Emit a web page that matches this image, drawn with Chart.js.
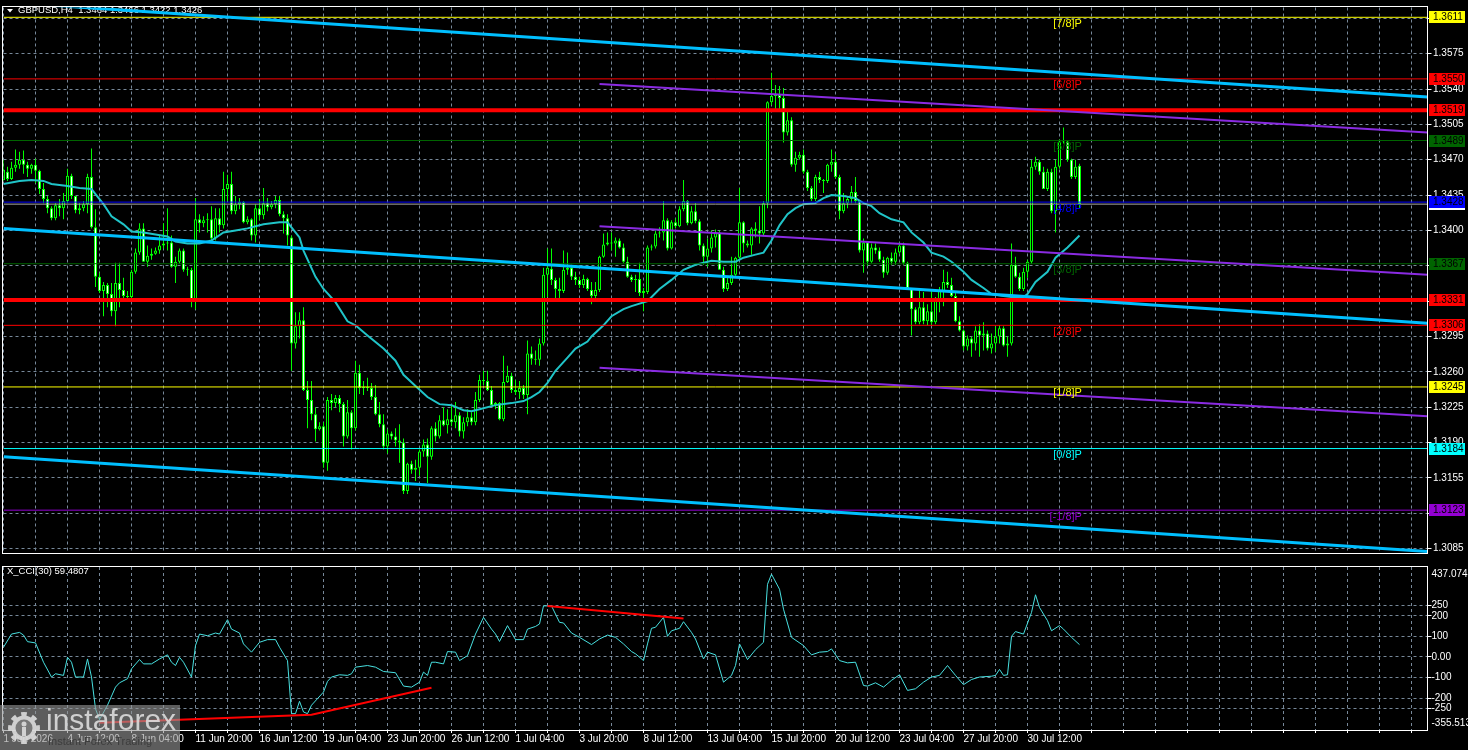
<!DOCTYPE html>
<html>
<head>
<meta charset="utf-8">
<title>GBPUSD H4</title>
<script src="https://cdn.jsdelivr.net/npm/chart.js@4.4.1/dist/chart.umd.min.js"></script>
<style>
  html, body { margin: 0; padding: 0; background: #000; }
  #wrap { position: relative; width: 1468px; height: 750px; overflow: hidden; background: #000; }
  #main { position: absolute; left: 0; top: 0; }
  #cci { position: absolute; left: 0; top: 561px; }
</style>
</head>
<body>
<div id="wrap">
  <canvas id="main" width="1468" height="561"></canvas>
  <canvas id="cci" width="1468" height="189"></canvas>
</div>
<script>
const symbol = 'GBPUSD';
const timeframe = 'H4';

// H4 candles, oldest first
const opens = [
  1.3450,1.3458,1.3451,1.3462,1.3465,1.3470,1.3465,1.3461,1.3465,1.3459,
  1.3441,1.3431,1.3422,1.3412,1.3425,1.3422,1.3429,1.3454,1.3434,1.3420,
  1.3422,1.3426,1.3453,1.3403,1.3354,1.3340,1.3346,1.3337,1.3320,1.3348,
  1.3341,1.3335,1.3334,1.3359,1.3378,1.3402,1.3369,1.3375,1.3377,1.3380,
  1.3385,1.3387,1.3388,1.3364,1.3369,1.3380,1.3361,1.3361,1.3332,1.3411,
  1.3407,1.3410,1.3411,1.3392,1.3412,1.3405,1.3441,1.3446,1.3419,1.3426,
  1.3428,1.3408,1.3411,1.3395,1.3422,1.3415,1.3427,1.3423,1.3426,1.3430,
  1.3416,1.3412,1.3393,1.3288,1.3305,1.3311,1.3242,1.3232,1.3218,1.3203,
  1.3206,1.3170,1.3232,1.3229,1.3234,1.3228,1.3196,1.3220,1.3204,1.3259,
  1.3244,1.3245,1.3244,1.3235,1.3218,1.3208,1.3186,1.3199,1.3196,1.3192,
  1.3190,1.3142,1.3169,1.3163,1.3165,1.3181,1.3188,1.3176,1.3204,1.3196,
  1.3212,1.3207,1.3213,1.3210,1.3217,1.3201,1.3210,1.3215,1.3210,1.3232,
  1.3252,1.3251,1.3242,1.3227,1.3229,1.3213,1.3250,1.3256,1.3242,1.3240,
  1.3244,1.3237,1.3278,1.3273,1.3272,1.3288,1.3356,1.3362,1.3351,1.3342,
  1.3340,1.3361,1.3363,1.3354,1.3351,1.3346,1.3352,1.3341,1.3335,1.3341,
  1.3374,1.3386,1.3388,1.3387,1.3390,1.3383,1.3369,1.3354,1.3351,1.3352,
  1.3338,1.3339,1.3383,1.3384,1.3397,1.3398,1.3410,1.3382,1.3408,1.3404,
  1.3421,1.3429,1.3407,1.3419,1.3409,1.3385,1.3374,1.3382,1.3393,1.3398,
  1.3361,1.3342,1.3348,1.3356,1.3373,1.3408,1.3387,1.3385,1.3402,1.3400,
  1.3397,1.3427,1.3527,1.3533,1.3534,1.3531,1.3497,1.3509,1.3465,1.3472,
  1.3475,1.3458,1.3442,1.3431,1.3453,1.3450,1.3449,1.3465,1.3468,1.3453,
  1.3419,1.3427,1.3431,1.3438,1.3429,1.3380,1.3388,1.3369,1.3383,1.3380,
  1.3371,1.3358,1.3373,1.3369,1.3378,1.3385,1.3368,1.3342,1.3322,1.3309,
  1.3324,1.3310,1.3320,1.3309,1.3330,1.3340,1.3349,1.3346,1.3335,1.3310,
  1.3301,1.3285,1.3293,1.3288,1.3301,1.3296,1.3298,1.3283,1.3288,1.3295,
  1.3303,1.3286,1.3288,1.3366,1.3354,1.3342,1.3359,1.3369,1.3463,1.3468,
  1.3458,1.3441,1.3458,1.3419,1.3463,1.3488,1.3488,1.3470,1.3453,1.3464
];
const highs = [
  1.3470,1.3463,1.3468,1.3480,1.3478,1.3479,1.3468,1.3466,1.3471,1.3460,
  1.3447,1.3434,1.3424,1.3427,1.3431,1.3437,1.3461,1.3456,1.3434,1.3427,
  1.3429,1.3456,1.3481,1.3421,1.3358,1.3349,1.3348,1.3348,1.3368,1.3368,
  1.3353,1.3340,1.3361,1.3382,1.3407,1.3407,1.3385,1.3382,1.3383,1.3395,
  1.3407,1.3422,1.3395,1.3374,1.3382,1.3382,1.3364,1.3363,1.3432,1.3416,
  1.3414,1.3417,1.3424,1.3422,1.3422,1.3458,1.3455,1.3458,1.3434,1.3432,
  1.3429,1.3414,1.3412,1.3426,1.3431,1.3442,1.3432,1.3429,1.3434,1.3434,
  1.3419,1.3416,1.3395,1.3319,1.3319,1.3324,1.3251,1.3251,1.3225,1.3210,
  1.3210,1.3235,1.3238,1.3237,1.3237,1.3230,1.3232,1.3222,1.3271,1.3267,
  1.3251,1.3254,1.3249,1.3247,1.3230,1.3218,1.3203,1.3201,1.3204,1.3208,
  1.3194,1.3170,1.3172,1.3173,1.3183,1.3193,1.3194,1.3206,1.3210,1.3217,
  1.3225,1.3223,1.3227,1.3230,1.3220,1.3215,1.3223,1.3220,1.3240,1.3257,
  1.3261,1.3261,1.3246,1.3230,1.3230,1.3276,1.3266,1.3259,1.3252,1.3251,
  1.3247,1.3291,1.3285,1.3281,1.3293,1.3363,1.3382,1.3382,1.3353,1.3353,
  1.3380,1.3378,1.3366,1.3359,1.3354,1.3356,1.3353,1.3349,1.3349,1.3375,
  1.3397,1.3398,1.3398,1.3393,1.3392,1.3387,1.3374,1.3356,1.3356,1.3368,
  1.3343,1.3385,1.3386,1.3400,1.3403,1.3429,1.3412,1.3410,1.3412,1.3424,
  1.3450,1.3430,1.3424,1.3427,1.3411,1.3387,1.3392,1.3400,1.3401,1.3400,
  1.3364,1.3354,1.3374,1.3374,1.3442,1.3409,1.3390,1.3403,1.3408,1.3424,
  1.3429,1.3528,1.3556,1.3544,1.3543,1.3541,1.3519,1.3512,1.3478,1.3478,
  1.3480,1.3460,1.3444,1.3455,1.3458,1.3451,1.3466,1.3480,1.3476,1.3455,
  1.3437,1.3433,1.3444,1.3453,1.3429,1.3392,1.3388,1.3387,1.3387,1.3383,
  1.3374,1.3374,1.3378,1.3382,1.3388,1.3388,1.3369,1.3342,1.3324,1.3340,
  1.3339,1.3327,1.3342,1.3334,1.3344,1.3361,1.3359,1.3353,1.3340,1.3315,
  1.3302,1.3296,1.3295,1.3305,1.3307,1.3309,1.3301,1.3298,1.3305,1.3306,
  1.3305,1.3295,1.3387,1.3374,1.3358,1.3363,1.3371,1.3470,1.3473,1.3470,
  1.3463,1.3461,1.3461,1.3470,1.3490,1.3502,1.3489,1.3471,1.3470,1.3466
];
const lows = [
  1.3449,1.3449,1.3450,1.3458,1.3461,1.3456,1.3453,1.3456,1.3447,1.3436,
  1.3427,1.3417,1.3410,1.3410,1.3414,1.3411,1.3427,1.3431,1.3417,1.3416,
  1.3419,1.3417,1.3402,1.3344,1.3338,1.3315,1.3324,1.3315,1.3305,1.3324,
  1.3333,1.3332,1.3332,1.3357,1.3376,1.3369,1.3364,1.3371,1.3376,1.3377,
  1.3382,1.3380,1.3363,1.3348,1.3367,1.3359,1.3355,1.3324,1.3322,1.3398,
  1.3403,1.3398,1.3390,1.3390,1.3398,1.3402,1.3429,1.3416,1.3416,1.3421,
  1.3407,1.3406,1.3390,1.3388,1.3410,1.3411,1.3419,1.3421,1.3422,1.3414,
  1.3397,1.3385,1.3261,1.3283,1.3293,1.3241,1.3204,1.3212,1.3191,1.3202,
  1.3165,1.3162,1.3222,1.3225,1.3220,1.3186,1.3194,1.3183,1.3202,1.3238,
  1.3237,1.3241,1.3232,1.3217,1.3205,1.3183,1.3179,1.3193,1.3186,1.3170,
  1.3139,1.3139,1.3159,1.3152,1.3157,1.3176,1.3150,1.3173,1.3191,1.3194,
  1.3206,1.3199,1.3206,1.3204,1.3196,1.3194,1.3206,1.3207,1.3207,1.3230,
  1.3247,1.3241,1.3227,1.3223,1.3212,1.3211,1.3249,1.3239,1.3237,1.3233,
  1.3233,1.3218,1.3267,1.3267,1.3266,1.3286,1.3334,1.3346,1.3332,1.3332,
  1.3338,1.3356,1.3351,1.3346,1.3343,1.3343,1.3340,1.3327,1.3332,1.3339,
  1.3373,1.3385,1.3380,1.3374,1.3382,1.3368,1.3353,1.3349,1.3339,1.3335,
  1.3320,1.3337,1.3380,1.3382,1.3393,1.3390,1.3380,1.3381,1.3402,1.3403,
  1.3419,1.3405,1.3406,1.3407,1.3380,1.3366,1.3364,1.3378,1.3383,1.3361,
  1.3339,1.3340,1.3346,1.3355,1.3372,1.3378,1.3383,1.3376,1.3393,1.3387,
  1.3395,1.3422,1.3524,1.3520,1.3519,1.3487,1.3494,1.3463,1.3458,1.3470,
  1.3456,1.3439,1.3429,1.3429,1.3447,1.3437,1.3447,1.3458,1.3451,1.3411,
  1.3417,1.3422,1.3427,1.3427,1.3378,1.3358,1.3365,1.3368,1.3377,1.3369,
  1.3353,1.3356,1.3366,1.3366,1.3377,1.3366,1.3342,1.3296,1.3307,1.3307,
  1.3307,1.3306,1.3306,1.3307,1.3319,1.3325,1.3343,1.3334,1.3309,1.3300,
  1.3281,1.3281,1.3275,1.3281,1.3275,1.3281,1.3281,1.3278,1.3280,1.3288,
  1.3285,1.3275,1.3286,1.3353,1.3340,1.3340,1.3353,1.3367,1.3460,1.3455,
  1.3441,1.3439,1.3417,1.3398,1.3461,1.3486,1.3468,1.3451,1.3451,1.3422
];
const closes = [
  1.3460,1.3451,1.3462,1.3465,1.3470,1.3465,1.3461,1.3465,1.3459,1.3441,
  1.3431,1.3422,1.3412,1.3425,1.3422,1.3429,1.3454,1.3434,1.3420,1.3422,
  1.3426,1.3453,1.3403,1.3354,1.3340,1.3346,1.3337,1.3320,1.3348,1.3341,
  1.3335,1.3334,1.3359,1.3378,1.3402,1.3369,1.3375,1.3377,1.3380,1.3385,
  1.3387,1.3388,1.3364,1.3369,1.3380,1.3361,1.3361,1.3332,1.3411,1.3407,
  1.3410,1.3411,1.3392,1.3412,1.3405,1.3441,1.3446,1.3419,1.3426,1.3428,
  1.3408,1.3411,1.3395,1.3422,1.3415,1.3427,1.3423,1.3426,1.3430,1.3416,
  1.3412,1.3395,1.3288,1.3305,1.3311,1.3242,1.3232,1.3218,1.3203,1.3206,
  1.3170,1.3232,1.3229,1.3234,1.3228,1.3196,1.3220,1.3204,1.3259,1.3244,
  1.3245,1.3244,1.3235,1.3218,1.3208,1.3186,1.3199,1.3196,1.3192,1.3190,
  1.3142,1.3169,1.3163,1.3165,1.3181,1.3188,1.3176,1.3204,1.3196,1.3212,
  1.3207,1.3213,1.3210,1.3217,1.3201,1.3210,1.3215,1.3210,1.3232,1.3252,
  1.3251,1.3242,1.3227,1.3229,1.3213,1.3250,1.3256,1.3242,1.3240,1.3244,
  1.3237,1.3278,1.3273,1.3272,1.3288,1.3356,1.3363,1.3351,1.3342,1.3340,
  1.3361,1.3363,1.3354,1.3351,1.3346,1.3352,1.3342,1.3335,1.3341,1.3374,
  1.3386,1.3388,1.3387,1.3390,1.3383,1.3369,1.3354,1.3351,1.3352,1.3338,
  1.3340,1.3383,1.3384,1.3397,1.3398,1.3410,1.3382,1.3408,1.3404,1.3421,
  1.3429,1.3407,1.3419,1.3409,1.3385,1.3374,1.3382,1.3393,1.3398,1.3361,
  1.3342,1.3348,1.3356,1.3373,1.3408,1.3387,1.3385,1.3402,1.3400,1.3397,
  1.3427,1.3527,1.3533,1.3534,1.3531,1.3497,1.3509,1.3465,1.3472,1.3475,
  1.3458,1.3442,1.3431,1.3453,1.3450,1.3449,1.3465,1.3468,1.3453,1.3419,
  1.3427,1.3431,1.3438,1.3429,1.3380,1.3388,1.3369,1.3383,1.3380,1.3371,
  1.3358,1.3373,1.3369,1.3378,1.3385,1.3368,1.3343,1.3322,1.3309,1.3324,
  1.3310,1.3320,1.3309,1.3330,1.3340,1.3349,1.3346,1.3335,1.3310,1.3301,
  1.3285,1.3293,1.3288,1.3301,1.3296,1.3298,1.3283,1.3288,1.3295,1.3303,
  1.3286,1.3288,1.3366,1.3354,1.3342,1.3359,1.3369,1.3463,1.3468,1.3458,
  1.3441,1.3458,1.3419,1.3463,1.3488,1.3488,1.3470,1.3453,1.3463,1.3426
];

// moving average, read at these bar numbers
const maBars = [0,4,7,10,12,16,19,22,23,25,27,30,32,35,38,41,43,46,49,52,
  55,58,61,65,69,71,72,74,75,78,80,83,86,88,91,95,98,100,103,106,
  109,112,115,117,119,123,127,130,132,134,136,138,141,143,146,147,150,152,155,157,
  161,164,167,170,173,177,180,183,185,188,190,192,194,196,198,200,203,205,207,210,
  213,215,217,219,222,225,227,230,232,235,237,240,242,245,247,250,252,255,256,258,
  261,263,266,269];
const maValues = [1.3446,1.3449,1.3450,1.3449,1.3446,1.3444,1.3442,1.3441,1.3436,1.3426,
  1.3414,1.3406,1.3399,1.3398,1.3396,1.3394,1.3389,1.3387,1.3387,1.3390,
  1.3398,1.3400,1.3402,1.3406,1.3408,1.3408,1.3403,1.3393,1.3380,1.3354,
  1.3342,1.3329,1.3310,1.3306,1.3296,1.3283,1.3271,1.3257,1.3246,1.3235,
  1.3228,1.3227,1.3222,1.3221,1.3223,1.3227,1.3229,1.3231,1.3235,1.3240,
  1.3249,1.3261,1.3274,1.3283,1.3290,1.3295,1.3306,1.3315,1.3322,1.3325,
  1.3330,1.3342,1.3351,1.3361,1.3366,1.3370,1.3369,1.3369,1.3373,1.3376,
  1.3378,1.3390,1.3405,1.3416,1.3422,1.3426,1.3427,1.3432,1.3435,1.3434,
  1.3432,1.3427,1.3424,1.3417,1.3411,1.3408,1.3398,1.3388,1.3378,1.3374,
  1.3369,1.3359,1.3351,1.3343,1.3337,1.3335,1.3334,1.3334,1.3337,1.3349,
  1.3359,1.3373,1.3383,1.3395];

// CCI(30)
const cciPeriod = 30;
const cciBars = [0,2,4,5,6,8,10,12,13,15,
  16,17,18,20,21,22,23,24,26,28,
  29,31,32,34,35,37,39,41,42,43,
  44,45,47,48,49,51,53,54,56,57,
  59,60,62,64,66,68,69,71,72,73,
  74,75,76,77,80,81,82,84,86,87,
  88,91,93,95,98,100,102,104,105,106,
  107,108,110,111,113,114,116,118,120,122,
  123,124,126,128,130,131,133,134,135,137,
  139,140,142,144,147,149,151,153,155,157,
  158,160,161,162,163,165,166,167,169,170,
  172,173,175,176,178,180,182,183,184,186,
  188,190,191,192,194,195,197,200,202,204,
  206,207,209,211,213,215,216,218,220,222,
  224,226,228,230,232,234,236,238,240,242,
  244,247,248,249,250,251,252,253,255,257,
  258,259,261,262,264,265,267,269];
const cciValues = [47,111,119,106,74,68,-26,-98,-82,-90,
  -2,-26,-98,-98,-10,-98,-252,-305,-235,-147,
  -126,-106,-58,-13,-34,-34,-10,10,-26,-42,
  -2,-26,-98,55,111,103,116,111,181,135,
  116,63,23,71,84,84,47,-18,-276,-276,
  -216,-268,-276,-235,-171,-119,-98,-87,-90,-82,
  -50,-42,-50,-71,-77,-142,-147,-123,-74,-90,
  -26,-26,-34,26,23,-18,6,111,192,135,
  111,75,152,84,84,135,148,160,248,248,
  168,165,116,95,60,87,106,95,63,26,
  15,-18,63,139,144,192,100,127,139,171,
  119,87,-10,23,10,-123,-90,-42,63,-13,
  35,71,353,402,329,232,95,55,10,23,
  26,39,-18,-29,-26,-139,-142,-126,-147,-114,
  -87,-163,-155,-123,-98,-90,-42,-90,-135,-110,
  -98,-94,-90,-61,-90,-87,100,123,111,216,
  302,240,176,127,152,135,95,59.4807];
const cciTicks = [-250, -200, -100, 0, 100, 200, 250];
const cciRange = [-355.513, 437.0745];
const cciTrendBars1 = [24, 77, 107];
const cciTrend1 = [-320, -281, -150];
const cciTrendBars2 = [136, 170];
const cciTrend2 = [248, 187];

// price axis
const priceRange = [1.30801, 1.36207];
const priceTicks = [1.3085,1.3120,1.3155,1.3190,1.3225,1.3260,1.3295,1.3330,
  1.3365,1.3400,1.3435,1.3470,1.3505,1.3540,1.3575,1.3610];
const dateLabels = ['1 Jun 2026','4 Jun 12:00','8 Jun 04:00','11 Jun 20:00','16 Jun 12:00',
  '19 Jun 04:00','23 Jun 20:00','26 Jun 12:00','1 Jul 04:00','3 Jul 20:00','8 Jul 12:00',
  '13 Jul 04:00','15 Jul 20:00','20 Jul 12:00','23 Jul 04:00','27 Jul 20:00','30 Jul 12:00'];

// levels and drawn lines
const murrayLevels = [1.3611,1.3550,1.3489,1.3428,1.3367,1.3306,1.3245,1.3184,1.3123];
const murrayNames = ['[7/8]P','[6/8]P','[5/8]P','[4/8]P','[3/8]P','[2/8]P','[1/8]P','[0/8]P','[-1/8]P'];
const srLevels = [1.3519, 1.3331];
const bidPrice = 1.3426;
const channelBars = [0, 356];
const channelTop = [1.3626, 1.3532];
const channelMid = [1.3402, 1.3308];
const channelLow = [1.3176, 1.3082];
const forkBars = [149, 356];
const forkTop = [1.3545, 1.3497];
const forkMid = [1.3404, 1.3356];
const forkLow = [1.3264, 1.3216];

const murrayColors = ['#ffff00','#ff0000','#006400','#0000ff','#006400','#ff0000','#ffff00','#00ffff','#9400d3'];
const axisFamily = "'Liberation Sans Narrow', 'Liberation Sans', Arial, sans-serif";
const X_MAX = 356;
const lastBar = opens.length - 1;

Chart.defaults.font.family = axisFamily;
Chart.defaults.font.size = 10;
Chart.defaults.color = '#ffffff';

const lineDs = (xs, ys, color, width, order) => ({
  type: 'line',
  data: xs.map((x, i) => ({ x: x, y: ys[i] })),
  borderColor: color,
  borderWidth: width,
  pointRadius: 0,
  tension: 0,
  fill: false,
  order: order
});

const xScale = withLabels => ({
  type: 'linear', min: 0, max: X_MAX, offset: false,
  grid: { color: '#778899', offset: false, drawTicks: withLabels, tickLength: 3, tickColor: '#ffffff' },
  border: { display: false, dash: [3, 3] },
  ticks: {
    display: withLabels, autoSkip: false, maxRotation: 0, minRotation: 0,
    align: 'start', padding: 0, color: '#ffffff',
    font: { family: axisFamily, size: 10 },
    callback: v => (v % 16 === 0 && dateLabels[v / 16]) ? dateLabels[v / 16] : ''
  },
  afterBuildTicks: s => {
    const t = [];
    for (let v = 0; v < X_MAX; v += 8) t.push({ value: v });
    s.ticks = t;
  },
  afterFit: s => { s.height = withLabels ? 20 : 0; }
});

const frame = {
  id: 'frame',
  afterDraw(chart) {
    const { ctx, chartArea: a } = chart;
    ctx.save();
    ctx.strokeStyle = '#ffffff';
    ctx.lineWidth = 1;
    ctx.strokeRect(Math.floor(a.left) - 0.5, Math.floor(a.top) - 0.5,
      Math.round(a.right - a.left) + 1, Math.round(a.bottom - a.top) + 1);
    ctx.restore();
  }
};

const mainTitle = {
  id: 'mainTitle',
  beforeDatasetsDraw(chart) {
    const ctx = chart.ctx;
    ctx.save();
    ctx.fillStyle = '#ffffff';
    ctx.beginPath();
    ctx.moveTo(7, 9); ctx.lineTo(13, 9); ctx.lineTo(10, 12.5);
    ctx.closePath();
    ctx.fill();
    ctx.font = '9.5px ' + axisFamily;
    ctx.textBaseline = 'middle';
    const ohlc = [opens[lastBar], highs[lastBar], lows[lastBar], closes[lastBar]].map(v => v.toFixed(4)).join(' ');
    ctx.fillText(symbol + ',' + timeframe + '  ' + ohlc, 18, 10.5);
    ctx.restore();
  }
};

const murrayText = {
  id: 'murrayText',
  afterDatasetsDraw(chart) {
    const { ctx, scales } = chart;
    ctx.save();
    ctx.font = '11px "Liberation Sans", Arial, sans-serif';
    ctx.textAlign = 'right';
    ctx.textBaseline = 'top';
    const x = scales.x.getPixelForValue(269.6);
    murrayLevels.forEach((p, i) => {
      ctx.fillStyle = murrayColors[i];
      ctx.fillText(murrayNames[i], x, scales.y.getPixelForValue(p) + 1);
    });
    ctx.restore();
  }
};

const priceBoxes = {
  id: 'priceBoxes',
  afterDraw(chart) {
    const ctx = chart.ctx;
    const y = chart.scales.y;
    const box = (p, bg) => {
      const py = Math.round(y.getPixelForValue(p));
      ctx.fillStyle = bg;
      ctx.fillRect(1429, py - 6, 36, 12);
      ctx.fillStyle = '#000000';
      ctx.fillText(p.toFixed(4), 1433, py + 0.5);
    };
    ctx.save();
    ctx.font = '10px ' + axisFamily;
    ctx.textBaseline = 'middle';
    box(bidPrice, '#ffffff');
    murrayLevels.forEach((p, i) => box(p, murrayColors[i]));
    srLevels.forEach(p => box(p, '#ff0000'));
    ctx.restore();
  }
};

const datasets = [];
murrayLevels.forEach((p, i) => datasets.push(lineDs([0, X_MAX], [p, p], murrayColors[i], 1, 3)));
datasets.push(lineDs([0, X_MAX], [bidPrice, bidPrice], '#a8a8a8', 1, 3));
srLevels.forEach(p => datasets.push(lineDs([0, X_MAX], [p, p], '#ff0000', 4, 2)));
[channelTop, channelMid, channelLow].forEach(v => datasets.push(lineDs(channelBars, v, '#00bfff', 3, 1)));
[forkTop, forkMid, forkLow].forEach(v => datasets.push(lineDs(forkBars, v, '#8a2be2', 2, 1)));
datasets.push(lineDs(maBars, maValues, '#20c4c8', 2, 4));
datasets.push({
  type: 'bar',
  data: opens.map((o, i) => ({ x: i, y: [o, closes[i]] })),
  backgroundColor: opens.map((o, i) => closes[i] >= o ? '#000000' : '#ffffff'),
  borderColor: '#00ff00',
  borderWidth: 1,
  borderSkipped: false,
  barThickness: 3,
  minBarLength: 1,
  inflateAmount: 0,
  grouped: false,
  order: 5
});
datasets.push({
  type: 'bar',
  data: highs.map((h, i) => ({ x: i, y: [lows[i], h] })),
  backgroundColor: '#00ff00',
  borderWidth: 0,
  barThickness: 1,
  inflateAmount: 0,
  grouped: false,
  order: 6
});

new Chart(document.getElementById('main'), {
  type: 'bar',
  data: { datasets: datasets },
  options: {
    responsive: false,
    animation: false,
    events: [],
    layout: { padding: { left: 3.5, top: 3, right: 0, bottom: 2 }, autoPadding: false },
    plugins: { legend: { display: false }, tooltip: { enabled: false } },
    scales: {
      x: xScale(false),
      y: {
        type: 'linear', position: 'right', min: priceRange[0], max: priceRange[1], beginAtZero: false,
        grid: { color: '#778899', drawTicks: true, tickLength: 4, tickColor: '#ffffff' },
        border: { display: true, color: '#ffffff', dash: [3, 3] },
        ticks: { color: '#ffffff', autoSkip: false, padding: 1.5, font: { family: axisFamily, size: 10 },
          callback: v => Number(v).toFixed(4) },
        afterBuildTicks: s => { s.ticks = priceTicks.map(v => ({ value: v })); },
        afterFit: s => { s.width = 40.5; }
      }
    }
  },
  plugins: [mainTitle, murrayText, frame, priceBoxes]
});

const cciTitle = {
  id: 'cciTitle',
  beforeDatasetsDraw(chart) {
    const ctx = chart.ctx;
    ctx.save();
    ctx.fillStyle = '#ffffff';
    ctx.font = '9.5px ' + axisFamily;
    ctx.textBaseline = 'middle';
    ctx.fillText('X_CCI(' + cciPeriod + ') ' + cciValues[cciValues.length - 1].toFixed(4), 7, 10.5);
    ctx.restore();
  }
};

const cciBounds = {
  id: 'cciBounds',
  afterDraw(chart) {
    const { ctx, chartArea: a } = chart;
    ctx.save();
    ctx.fillStyle = '#ffffff';
    ctx.font = '10px ' + axisFamily;
    ctx.textBaseline = 'middle';
    ctx.fillText(String(cciRange[1]), 1431.5, a.top + 7);
    ctx.fillText(String(cciRange[0]), 1431.5, a.bottom - 7);
    ctx.restore();
  }
};

const logo = {
  id: 'logo',
  afterDraw(chart) {
    const ctx = chart.ctx;
    const top = chart.height - 45;
    ctx.save();
    ctx.fillStyle = 'rgba(150,150,150,0.62)';
    ctx.fillRect(0, top, 180, 45);
    const cx = 24, cy = top + 23;
    ctx.fillStyle = 'rgba(220,220,220,0.9)';
    ctx.beginPath();
    for (let k = 0; k < 16; k++) {
      const a0 = k * Math.PI / 8 - Math.PI / 16;
      ctx.arc(cx, cy, k % 2 ? 12.5 : 16, a0, a0 + Math.PI / 8);
    }
    ctx.closePath();
    ctx.fill();
    ctx.fillStyle = 'rgba(120,120,120,1)';
    ctx.beginPath();
    ctx.arc(cx, cy, 8.5, 0, Math.PI * 2);
    ctx.fill();
    ctx.fillStyle = 'rgba(220,220,220,0.9)';
    ctx.beginPath();
    ctx.arc(cx, cy - 4, 2.5, 0, Math.PI * 2);
    ctx.fill();
    ctx.fillRect(cx - 2, cy - 1, 4, 9);
    ctx.font = '30px "Liberation Sans", Arial, sans-serif';
    ctx.textBaseline = 'alphabetic';
    ctx.fillText('instaforex', 46, top + 25);
    ctx.fillStyle = '#3c3c3c';
    ctx.font = '11px "Liberation Sans", Arial, sans-serif';
    ctx.fillText('Instant Forex Trading', 48, top + 40);
    ctx.restore();
  }
};

new Chart(document.getElementById('cci'), {
  type: 'line',
  data: {
    datasets: [
      lineDs(cciTrendBars1, cciTrend1, '#ff0000', 2, 1),
      lineDs(cciTrendBars2, cciTrend2, '#ff0000', 2, 1),
      lineDs(cciBars, cciValues, '#48e0e0', 1, 2)
    ]
  },
  options: {
    responsive: false,
    animation: false,
    events: [],
    layout: { padding: { left: 3.5, top: 2, right: 0, bottom: 0 }, autoPadding: false },
    plugins: { legend: { display: false }, tooltip: { enabled: false } },
    scales: {
      x: xScale(true),
      y: {
        type: 'linear', position: 'right', min: cciRange[0], max: cciRange[1],
        grid: { color: '#778899', drawTicks: true, tickLength: 4, tickColor: '#ffffff' },
        border: { display: true, color: '#ffffff', dash: [3, 3] },
        ticks: { color: '#ffffff', autoSkip: false, padding: 0, font: { family: axisFamily, size: 10 },
          callback: v => v === 0 ? '0.00' : String(v) },
        afterBuildTicks: s => { s.ticks = cciTicks.map(v => ({ value: v })); },
        afterFit: s => { s.width = 40.5; }
      }
    }
  },
  plugins: [cciTitle, frame, cciBounds, logo]
});
</script>
</body>
</html>
